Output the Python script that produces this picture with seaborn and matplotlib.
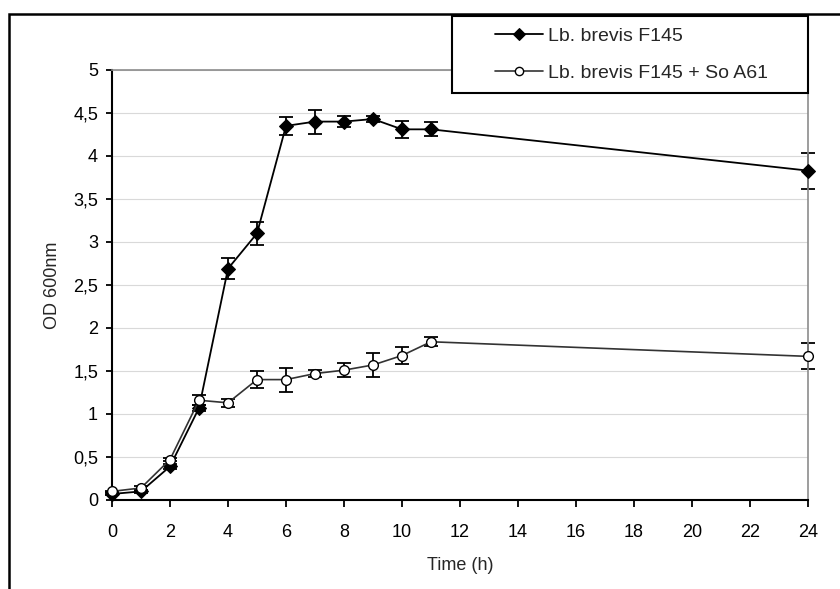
import numpy as np
import pandas as pd
import matplotlib
matplotlib.use("Agg")
import matplotlib.pyplot as plt
from matplotlib.patches import Rectangle
from matplotlib.ticker import FuncFormatter, MultipleLocator
import seaborn as sns

# Growth curves (OD at 600 nm) with standard deviations
time_h = [0, 1, 2, 3, 4, 5, 6, 7, 8, 9, 10, 11, 24]
od_f145 = [0.07, 0.10, 0.39, 1.07, 2.69, 3.10, 4.35, 4.40, 4.40, 4.43, 4.31, 4.31, 3.83]
sd_f145 = [0.01, 0.02, 0.03, 0.04, 0.12, 0.13, 0.10, 0.14, 0.06, 0.03, 0.10, 0.08, 0.21]
od_mix = [0.10, 0.14, 0.47, 1.16, 1.13, 1.40, 1.40, 1.47, 1.51, 1.57, 1.68, 1.84, 1.67]
sd_mix = [0.01, 0.02, 0.02, 0.06, 0.05, 0.10, 0.14, 0.04, 0.085, 0.14, 0.10, 0.05, 0.15]
labels = ["Lb. brevis F145", "Lb. brevis F145 + So A61"]
x_ticks = list(range(0, 25, 2))

sns.set_style("white")
plt.rcParams["font.family"] = ["Liberation Sans", "DejaVu Sans"]

df = pd.concat([
    pd.DataFrame({"time": time_h, "od": od_f145, "sd": sd_f145, "strain": labels[0]}),
    pd.DataFrame({"time": time_h, "od": od_mix, "sd": sd_mix, "strain": labels[1]}),
])

fig = plt.figure(figsize=(8.4, 5.89), dpi=100)
ax = fig.add_axes([112 / 840, 1 - 500 / 589, 696 / 840, 430 / 589])

styles = {
    labels[0]: dict(color="black", marker="D", markersize=7, markerfacecolor="black",
                    markeredgecolor="black", lw=1.3),
    labels[1]: dict(color="#333333", marker="o", markersize=7, markerfacecolor="white",
                    markeredgecolor="black", markeredgewidth=1.0, lw=1.2),
}

for name in labels:
    sub = df[df["strain"] == name]
    eb = ax.errorbar(sub["time"], sub["od"], yerr=sub["sd"], fmt="none", ecolor="black",
                     elinewidth=1.3, capsize=5, capthick=1.3, zorder=2)
    for art in eb.lines[1] + eb.lines[2]:
        art.set_clip_on(False)
    sns.lineplot(data=sub, x="time", y="od", ax=ax, label=name, errorbar=None,
                 zorder=3, clip_on=False, **styles[name])

ax.set_xlim(0, 24)
ax.set_ylim(0, 5)
ax.set_xticks(x_ticks)
ax.yaxis.set_major_locator(MultipleLocator(0.5))
ax.yaxis.set_major_formatter(FuncFormatter(lambda v, _: f"{v:g}".replace(".", ",")))
ax.grid(axis="y", color="#d9d9d9", lw=0.8)
ax.set_axisbelow(True)

for side in ("left", "bottom"):
    ax.spines[side].set_color("black")
    ax.spines[side].set_linewidth(1.5)
for side in ("top", "right"):
    ax.spines[side].set_color("#8c8c8c")
    ax.spines[side].set_linewidth(1.2)

ax.tick_params(axis="both", direction="out", length=5, width=1.3, color="black",
               labelsize=13, labelcolor="black")
ax.tick_params(axis="x", pad=12)
ax.tick_params(axis="y", length=4, pad=6)
ax.tick_params(bottom=True, left=True)

ax.set_xlabel("Time (h)", fontsize=13, labelpad=12)
ax.set_ylabel("OD 600nm", fontsize=13, labelpad=9)

# Legend box drawn above the plot area, legend entries placed inside it
if ax.get_legend() is not None:
    ax.get_legend().remove()
fig.add_artist(Rectangle((452 / 840, 1 - 93 / 589), 356 / 840, 77 / 589,
                         transform=fig.transFigure, facecolor="white",
                         edgecolor="black", lw=1.5, zorder=5))
handles, hl = ax.get_legend_handles_labels()
leg = fig.legend(handles, hl, loc="upper left",
                 bbox_to_anchor=(495 / 840, 1 - 27 / 589),
                 frameon=False, fontsize=14, markerscale=0.85,
                 handlelength=2.45, handletextpad=0.3, labelspacing=1.0,
                 borderpad=0, borderaxespad=0)
leg.set_zorder(6)

# Outer chart border (top and left edges visible)
fig.add_artist(Rectangle((9 / 840, -0.1), 1.2, 1.1 - 14 / 589, transform=fig.transFigure,
                         fill=False, edgecolor="black", lw=1.8, zorder=0))

fig.savefig("out.png", dpi=100)
